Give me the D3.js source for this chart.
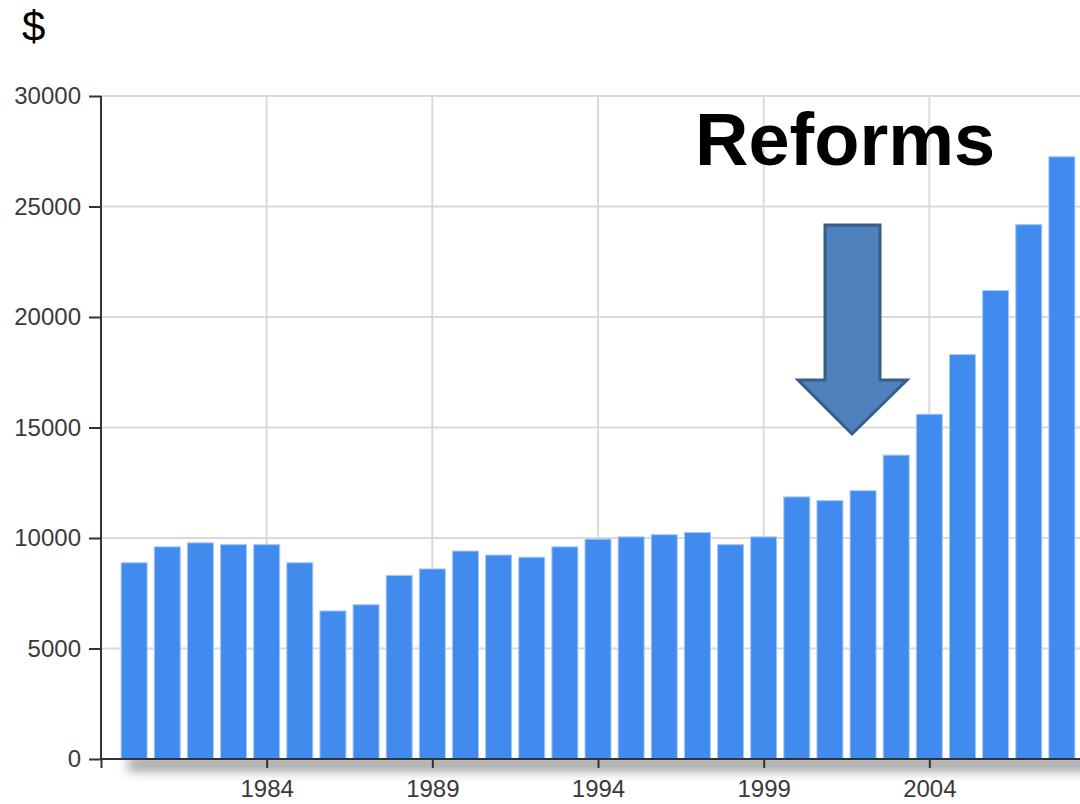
<!DOCTYPE html>
<html>
<head>
<meta charset="utf-8">
<title>Reforms</title>
<script src="https://cdn.jsdelivr.net/npm/d3@7"></script>
<style>
  body { margin: 0; background: #fff; }
  svg { display: block; }
  .tick text { font-family: "Liberation Sans", Arial, sans-serif; fill: #3a3a3a; }
</style>
</head>
<body>
<svg id="chart" width="1080" height="804"></svg>
<script>
// values (dollars per year)
var years = [1980, 1981, 1982, 1983, 1984, 1985, 1986, 1987, 1988, 1989,
             1990, 1991, 1992, 1993, 1994, 1995, 1996, 1997, 1998, 1999,
             2000, 2001, 2002, 2003, 2004, 2005, 2006, 2007, 2008];
var amounts = [8880, 9600, 9780, 9700, 9700, 8880, 6700, 6980, 8310, 8600,
               9410, 9230, 9130, 9600, 9950, 10050, 10150, 10250, 9700, 10050,
               11860, 11690, 12140, 13750, 15600, 18300, 21200, 24180, 27250];
var yTicks = [0, 5000, 10000, 15000, 20000, 25000, 30000];
var xTicks = [1984, 1989, 1994, 1999, 2004];

var svg = d3.select('#chart');
var x = d3.scaleLinear().domain([1979, 2009]).range([101, 1095]);
var y = d3.scaleLinear().domain([0, 30000]).range([759, 96]);
var barW = 26;

var defs = svg.append('defs');
defs.append('filter').attr('id', 'blur')
  .attr('x', '-10%').attr('y', '-200%').attr('width', '120%').attr('height', '500%')
  .append('feGaussianBlur').attr('stdDeviation', 6);

// grid
svg.append('g').selectAll('line').data(yTicks.slice(1)).enter().append('line')
  .attr('x1', x(1979)).attr('x2', 1080)
  .attr('y1', d => y(d)).attr('y2', d => y(d))
  .attr('stroke', '#dadada').attr('stroke-width', 2);
svg.append('g').selectAll('line').data(xTicks).enter().append('line')
  .attr('x1', d => x(d)).attr('x2', d => x(d))
  .attr('y1', y(30000)).attr('y2', y(0))
  .attr('stroke', '#dadada').attr('stroke-width', 2);

// shadow under the base line
svg.append('rect')
  .attr('x', 128).attr('y', y(0) - 2).attr('width', 1000).attr('height', 14)
  .attr('fill', '#000').attr('opacity', 0.38).attr('filter', 'url(#blur)');
svg.append('rect')
  .attr('x', 100).attr('y', y(0) - 30).attr('width', 980).attr('height', 30)
  .attr('fill', '#fff');

// bars
svg.append('g').selectAll('rect').data(years).enter().append('rect')
  .attr('x', (d, i) => x(d) - barW / 2)
  .attr('y', (d, i) => y(amounts[i]))
  .attr('width', barW)
  .attr('height', (d, i) => y(0) - y(amounts[i]))
  .attr('fill', '#418bee')
  .attr('stroke', '#a6c8f6').attr('stroke-width', 1);

// axes
var yAxis = svg.append('g').attr('transform', 'translate(' + x(1979) + ',0)')
  .call(d3.axisLeft(y).tickValues(yTicks).tickSize(12).tickPadding(8).tickFormat(d3.format('d')));
var xAxis = svg.append('g').attr('transform', 'translate(0,' + y(0) + ')')
  .call(d3.axisBottom(x).tickValues([1979].concat(xTicks)).tickSize(9).tickPadding(12)
    .tickFormat(d => d === 1979 ? '' : d));
[yAxis, xAxis].forEach(function(a) {
  a.select('.domain').attr('stroke', '#333').attr('stroke-width', 2);
  a.selectAll('.tick line').attr('stroke', '#333').attr('stroke-width', 2);
  a.selectAll('.tick text').attr('font-size', 24).attr('fill', '#383838');
});
yAxis.select('.domain').attr('d', 'M0,' + y(30000) + 'V' + y(0));
xAxis.select('.domain').attr('d', 'M' + x(1979) + ',0H1080');
xAxis.selectAll('.tick text').attr('dy', '0.71em');

// "$" label
svg.append('text').attr('x', 22).attr('y', 41)
  .attr('font-family', 'Liberation Sans, Arial, sans-serif').attr('font-size', 42)
  .attr('fill', '#000').text('$');

// annotation
svg.append('text').attr('x', 695).attr('y', 165)
  .attr('font-family', 'Liberation Sans, Arial, sans-serif').attr('font-weight', 'bold')
  .attr('font-size', 74).attr('fill', '#000').text('Reforms');
svg.append('path')
  .attr('d', 'M825,225 H880 V380 H907 L852,434 L798,380 H825 Z')
  .attr('fill', '#4f81bd').attr('stroke', '#385d8a').attr('stroke-width', 3)
  .attr('stroke-linejoin', 'miter');
</script>
</body>
</html>
